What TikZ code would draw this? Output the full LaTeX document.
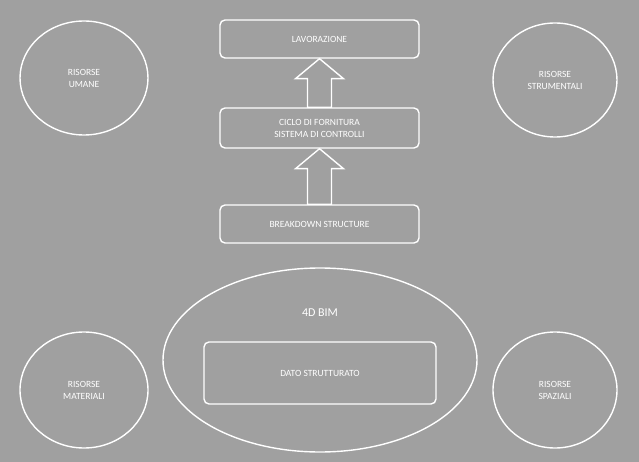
\documentclass[tikz,border=0pt]{standalone}
\usepackage{fontspec}
\setmainfont{Carlito}
\usetikzlibrary{calc}
\definecolor{bg}{HTML}{A0A0A0}
\begin{document}
\begin{tikzpicture}[x=1pt,y=-1pt,
  wl/.style={draw=white,line width=1.4pt},
  tx/.style={text=white,font=\fontsize{9.5}{12}\selectfont,align=center},
  box/.style={wl,tx,rounded corners=5pt,minimum width=199pt,minimum height=38pt},
  barrow/.style={wl,fill=bg}]
\fill[bg] (0,0) rectangle (639,462);
\useasboundingbox (0,0) rectangle (639,462);
\draw[wl] (84,78) ellipse [x radius=64,y radius=57];
\node[tx] (ru) at (84,78) {RISORSE\\UMANE};
\draw[wl] (555,80) ellipse [x radius=62,y radius=57];
\node[tx] (rs) at (555,80) {RISORSE\\STRUMENTALI};
\draw[wl] (84,390) ellipse [x radius=64,y radius=58];
\node[tx] (rm) at (84,390) {RISORSE\\MATERIALI};
\draw[wl] (555,390) ellipse [x radius=62,y radius=58];
\node[tx] (rsp) at (555,390) {RISORSE\\SPAZIALI};
\draw[wl] (320,360) ellipse [x radius=157,y radius=92];
\node[tx,font=\fontsize{12}{14}\selectfont] (bim) at (320,313) {4D BIM};
\node[box,minimum width=232pt,minimum height=62pt] (dato) at (320,373) {DATO STRUTTURATO};
\node[box] (lav) at (319.5,39) {LAVORAZIONE};
\node[box,minimum height=40pt] (cic) at (319.5,128) {CICLO DI FORNITURA\\SISTEMA DI CONTROLLI};
\node[box] (brk) at (319.5,224) {BREAKDOWN STRUCTURE};
\foreach \s/\t in {cic/lav,brk/cic}{
 \draw[barrow] ($(\s.north)+(-12,0)$) -- ($(\t.south)+(-12,20)$) -- ($(\t.south)+(-24,20)$) -- (\t.south) -- ($(\t.south)+(24,20)$) -- ($(\t.south)+(12,20)$) -- ($(\s.north)+(12,0)$) -- cycle;
}
\end{tikzpicture}
\end{document}
